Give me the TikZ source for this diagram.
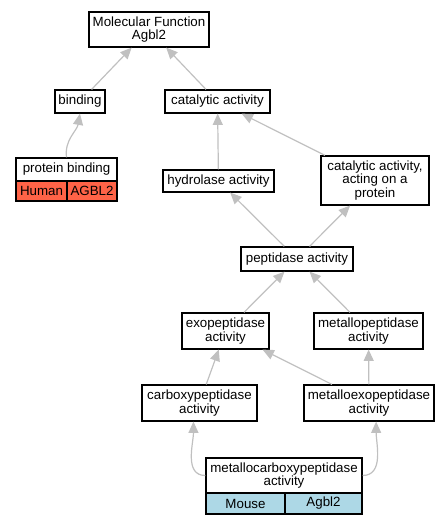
\documentclass[tikz,border=0pt]{standalone}
\usepackage{fontspec}
\setmainfont{Liberation Sans}
\usetikzlibrary{arrows.meta}
\definecolor{edgegray}{RGB}{192,192,192}
\definecolor{humanred}{RGB}{255,99,71}
\definecolor{mouseblue}{RGB}{173,216,230}
\tikzset{
  gonode/.style = {align=center, inner sep=0pt, text centered,
    font=\fontsize{10}{10}\selectfont, draw=black, line width=0.9pt},
  go_t/.style = {gonode, rectangle, fill=white},% go term box
  go_h/.style = {gonode, rectangle, fill=humanred},% human gene cell
  go_m/.style = {gonode, rectangle, fill=mouseblue},% mouse gene cell
  go_e/.style = {draw=edgegray, line width=0.9pt,
    -{Triangle[length=8.5pt,width=7.5pt]}}
}
\begin{document}
\begin{tikzpicture}[x=0.75pt,y=-0.75pt]
\useasboundingbox (0,0) rectangle (448,525);
% terms
\node [go_t, minimum width=90pt, minimum height=26.25pt] (mf) at (149,29.5) {Molecular Function\\Agbl2};
\node [go_t, minimum width=37.5pt, minimum height=17.25pt] (bind) at (80,101.5) {binding};
\node [go_t, minimum width=78.75pt, minimum height=17.25pt] (cat) at (217.5,101.5) {catalytic activity};
\node [go_t, minimum width=75.75pt, minimum height=17.25pt] (pb) at (66.5,169.5) {protein binding};
\node [go_h, minimum width=38.25pt, minimum height=15pt] (pb_h) at (41.5,191) {Human};
\node [go_h, minimum width=37.5pt, minimum height=15pt] (pb_g) at (92,191) {AGBL2};
\node [go_t, minimum width=83.25pt, minimum height=16.5pt] (hyd) at (218.5,181) {hydrolase activity};
\node [go_t, minimum width=81pt, minimum height=36.75pt] (catp) at (375,180.5) {catalytic activity,\\acting on a\\protein};
\node [go_t, minimum width=84pt, minimum height=18pt] (pep) at (297,259) {peptidase activity};
\node [go_t, minimum width=65.25pt, minimum height=27pt] (exo) at (225.5,331) {exopeptidase\\activity};
\node [go_t, minimum width=81.75pt, minimum height=27pt] (mpep) at (368.5,331) {metallopeptidase\\activity};
\node [go_t, minimum width=86.25pt, minimum height=27pt] (carb) at (199.5,403) {carboxypeptidase\\activity};
\node [go_t, minimum width=97.5pt, minimum height=27pt] (mexo) at (369,403) {metalloexopeptidase\\activity};
\node [go_t, minimum width=117pt, minimum height=26.25pt] (mc) at (284,475.5) {metallocarboxypeptidase\\activity};
\node [go_m, minimum width=59.25pt, minimum height=15.75pt] (mc_m) at (245.5,503.5) {Mouse};
\node [go_m, minimum width=57.75pt, minimum height=15.75pt] (mc_g) at (323.5,503.5) {Agbl2};
% is_a edges
\draw [go_e] (bind) -- (mf);
\draw [go_e] (cat) -- (mf);
\draw [go_e] (pb.north) to[out=97,in=-100] (bind.south);
\draw [go_e] (hyd) -- (cat);
\draw [go_e] (catp) -- (cat);
\draw [go_e] (pep) -- (hyd);
\draw [go_e] (pep) -- (catp);
\draw [go_e] (exo) -- (pep);
\draw [go_e] (mpep) -- (pep);
\draw [go_e] (carb) -- (exo);
\draw [go_e] (mexo) -- (exo);
\draw [go_e] (mexo) -- (mpep);
\draw [go_e] (mc.west) to[out=180,in=-90] (carb.252);
\draw [go_e] (mc.east) to[out=0,in=-90] (mexo.291);
\end{tikzpicture}
\end{document}
